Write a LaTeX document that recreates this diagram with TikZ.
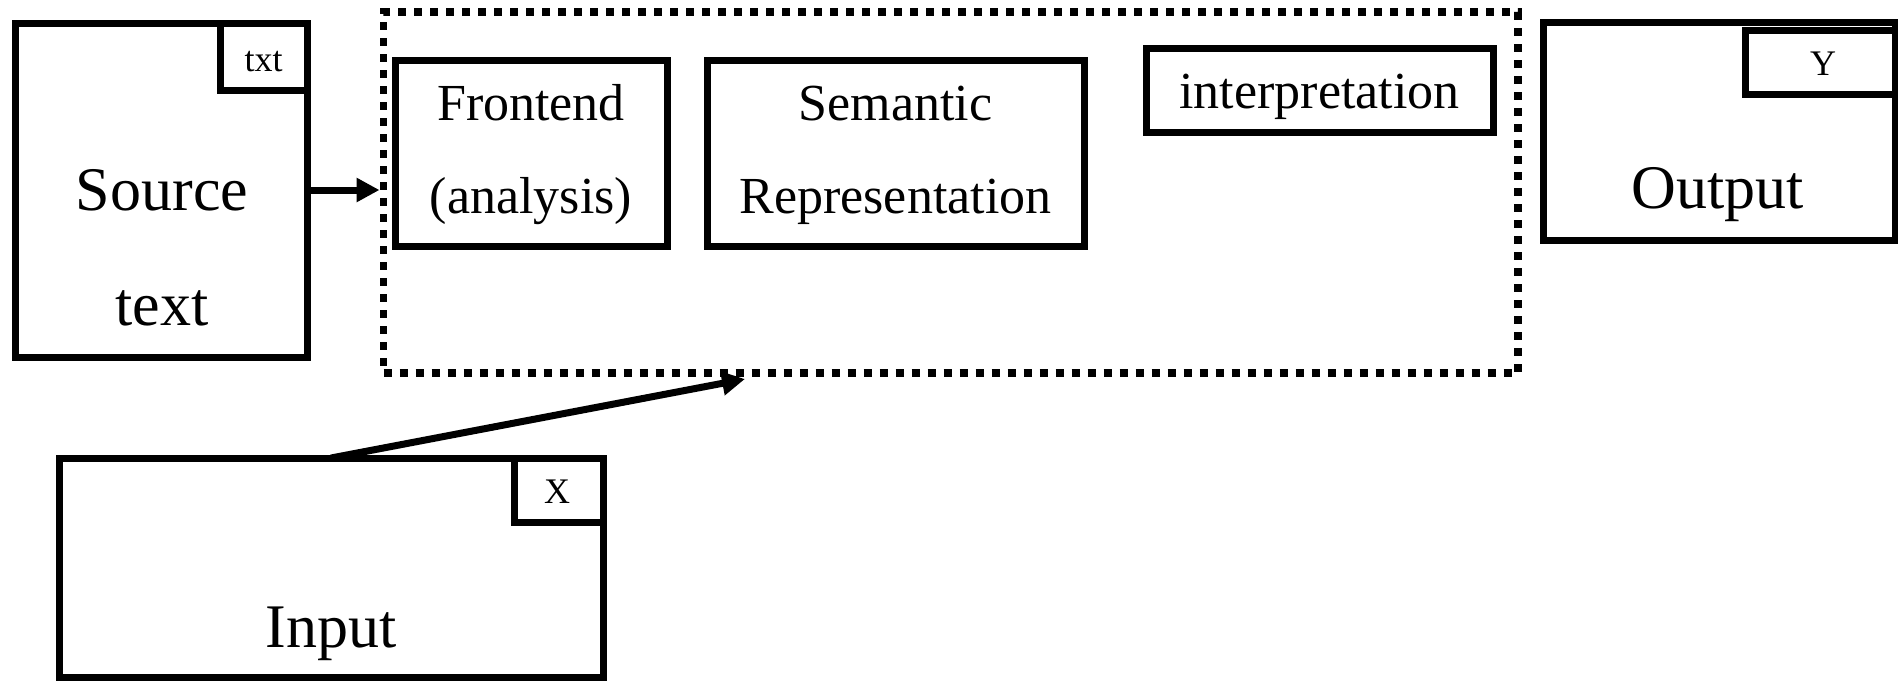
\documentclass[tikz,border=0pt]{standalone}
\usepackage{fontspec}
\setmainfont{Liberation Serif}
\usetikzlibrary{arrows.meta}
\begin{document}
\begin{tikzpicture}[x=1pt,y=-1pt,
  box/.style={draw=black, line width=7pt, rectangle, inner sep=0pt, outer sep=0pt},
  dotbox/.style={draw=black, line width=7.5pt, dash pattern=on 8pt off 8pt, rectangle, inner sep=0pt, outer sep=0pt},
  bigtext/.style={font=\fontsize{62}{62}\selectfont, anchor=base, inner sep=0pt},
  midtext/.style={font=\fontsize{52}{52}\selectfont, anchor=base, inner sep=0pt},
  smalltext/.style={font=\fontsize{36}{36}\selectfont, anchor=base, inner sep=0pt},
  arr/.style={line width=7pt, -{Triangle[length=23pt,width=23pt]}}]
\useasboundingbox (0,0) rectangle (1898,681);

% dotted container
\node[dotbox, minimum width=1134.5pt, minimum height=361pt] (dot) at (950.75,192.5) {};

% source document
\node[box, minimum width=292pt, minimum height=334pt] (src) at (161,190) {};
\node[box, minimum width=87pt, minimum height=67pt] (srctag) at (263.5,56.5) {};
\node[smalltext] (srctagt) at (263.5,71) {txt};
\node[bigtext] (srct1) at (162,210) {Source};
\node[bigtext] (srct2) at (162,325) {text};

% inner boxes
\node[box, minimum width=272pt, minimum height=186pt] (fe) at (531,153) {};
\node[midtext] (fet1) at (531,120) {Frontend};
\node[midtext] (fet2) at (531,213) {(analysis)};

\node[box, minimum width=377pt, minimum height=186pt] (sem) at (895.5,153) {};
\node[midtext] (semt1) at (895.5,120) {Semantic};
\node[midtext] (semt2) at (895.5,213) {Representation};

\node[box, minimum width=347pt, minimum height=84pt] (interp) at (1319.5,90) {};
\node[midtext] (interpt) at (1319.5,108) {interpretation};

% output
\node[box, minimum width=352pt, minimum height=218pt] (out) at (1719,131) {};
\node[box, minimum width=150pt, minimum height=64pt] (outtag) at (1820,62) {};
\node[smalltext] (outtagt) at (1823,75) {Y};
\node[bigtext] (outt) at (1718,208) {Output};

% input
\node[box, minimum width=544pt, minimum height=219pt] (inp) at (331,567.5) {};
\node[box, minimum width=89pt, minimum height=64pt] (inptag) at (558.5,490) {};
\node[smalltext] (inptagt) at (557,503) {X};
\node[bigtext] (inpt) at (331,647) {Input};

% connectors
\draw[arr] (src.east) -- ([xshift=-4pt]dot.west |- src.east);
\coordinate (inTip) at (745,379);
\draw[arr] (inp.north) -- (inTip);
\end{tikzpicture}
\end{document}
